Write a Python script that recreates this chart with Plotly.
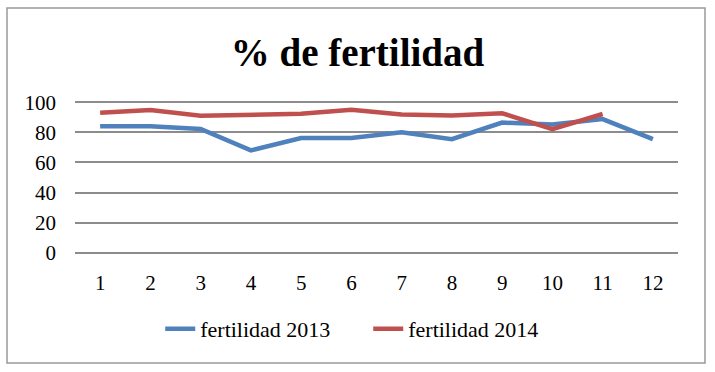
import plotly.graph_objects as go

months = ["1", "2", "3", "4", "5", "6", "7", "8", "9", "10", "11", "12"]
fert_2013 = [84, 84, 82.2, 68, 76.2, 76.2, 80, 75.5, 86.5, 85.2, 88.8, 75.5]
fert_2014 = [93, 94.8, 91, 91.9, 92.3, 95, 91.9, 91.2, 92.7, 82.2, 92.2, None]
y_ticks = [0, 20, 40, 60, 80, 100]

FONT = "Liberation Serif"

fig = go.Figure()
fig.add_trace(go.Scatter(x=months, y=fert_2013, mode="lines", name="fertilidad 2013",
                         line=dict(color="#4F81BD", width=4.5)))
fig.add_trace(go.Scatter(x=months, y=fert_2014, mode="lines", name="fertilidad 2014",
                         line=dict(color="#C0504D", width=4.5)))

W, H = 715, 372
L, R, T, B = 75, 37, 100, 117
ph = H - T - B
pw = W - L - R
y_bottom = H - B

fig.update_layout(
    width=W, height=H,
    margin=dict(l=L, r=R, t=T, b=B, pad=0),
    paper_bgcolor="white", plot_bgcolor="white",
    font=dict(family=FONT, size=21, color="black"),
    title=dict(text="<b>% de fertilidad</b>", font=dict(family=FONT, size=39, color="black"),
               x=0.5, xref="container", xanchor="center",
               y=1 - 52 / H, yref="container", yanchor="middle"),
    showlegend=True,
    legend=dict(orientation="h", xref="container", x=0.515, xanchor="center",
                yref="container", y=1 - 329 / H, yanchor="middle",
                font=dict(family=FONT, size=22), entrywidth=163,
                bgcolor="rgba(0,0,0,0)"),
    xaxis=dict(type="category", range=[-0.5, 11.5], showgrid=False, zeroline=False,
               showline=False, ticks="", ticklabelstandoff=13, fixedrange=True),
    yaxis=dict(range=[-1.5, 101.5], tickvals=y_ticks, showgrid=True, gridcolor="#8c8c8c",
               gridwidth=1.8, zeroline=False, showline=False, ticks="",
               ticklabelstandoff=18, fixedrange=True),
    shapes=[dict(type="rect", xref="paper", yref="paper",
                 x0=(7 - L) / pw, x1=(705 - L) / pw,
                 y0=(y_bottom - 363) / ph, y1=(y_bottom - 8) / ph,
                 line=dict(color="#999999", width=1.5), fillcolor="rgba(0,0,0,0)",
                 layer="below")],
)

fig.write_html("out.html", config={"displayModeBar": False},
               post_script="document.body.style.margin='0';")
